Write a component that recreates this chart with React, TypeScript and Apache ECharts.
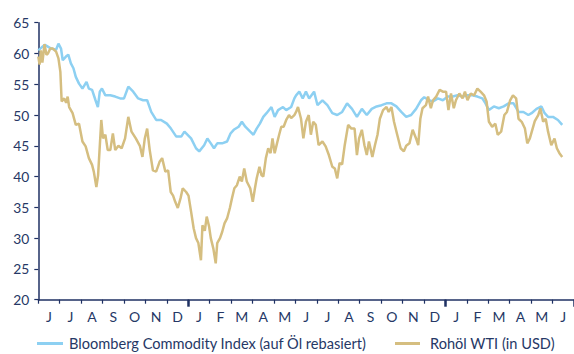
import React, { useEffect, useRef } from "react";
import * as echarts from "echarts";

// Month letters from June 2015 to June 2017 (one label per month band)
const monthLabels = [
  "J", "J", "A", "S", "O", "N", "D",
  "J", "F", "M", "A", "M", "J", "J", "A", "S", "O", "N", "D",
  "J", "F", "M", "A", "M", "J",
];
// Indices of the month bands that open a new year (January)
const yearStarts = [7, 19];

const seriesNames = ["Bloomberg Commodity Index (auf Öl rebasiert)", "Rohöl WTI (in USD)"];

// x: months elapsed since 1 June 2015; y: index level (rebased to oil)
const bcomMonths = [
  0, 0.16, 0.31, 0.6, 0.83, 0.94, 1.06, 1.14, 1.29, 1.4, 1.52, 1.64, 1.75, 1.9, 2.06, 2.25, 2.36, 2.51,
  2.67, 2.78, 2.87, 2.97, 3.13, 3.36, 3.59, 3.82, 4.0, 4.2, 4.43, 4.66, 4.89, 5.08, 5.27, 5.5, 5.73, 6.0,
  6.19, 6.44, 6.67, 6.82, 7.13, 7.36, 7.51, 7.74, 7.89, 8.05, 8.2, 8.35, 8.58, 8.81, 8.97, 9.12, 9.35,
  9.5, 9.66, 9.89, 10.04, 10.19, 10.34, 10.5, 10.65, 10.88, 11.03, 11.19, 11.42, 11.57, 11.8, 11.95,
  12.03, 12.18, 12.34, 12.49, 12.64, 12.87, 13.03, 13.26, 13.49, 13.72, 13.95, 14.18, 14.41, 14.64,
  14.87, 15.1, 15.33, 15.56, 15.79, 16.02, 16.25, 16.48, 16.71, 16.94, 17.17, 17.4, 17.63, 17.86, 18.01,
  18.23, 18.42, 18.65, 18.88, 19.11, 19.34, 19.57, 19.8, 20.03, 20.26, 20.49, 20.72, 20.87, 21.03, 21.26,
  21.49, 21.72, 21.95, 22.18, 22.41, 22.64, 22.87, 23.02, 23.25, 23.48, 23.63, 23.79, 24.02, 24.25, 24.45,
];
const bcomValues = [
  60.5, 61, 61.4, 60.8, 60.6, 61.6, 60.8, 58.9, 59.5, 59.8, 58.4, 57.6, 56.2, 55.1, 54.3, 55.4, 54.3, 54.1,
  52.4, 51.3, 53.8, 54.3, 53.2, 53.2, 53, 52.7, 52.7, 54.6, 53.8, 52.7, 52.4, 52.4, 50.5, 49.2, 49.2, 48.6,
  47.8, 46.5, 46.5, 47.3, 46.2, 44.6, 44.1, 45.1, 46.2, 45.4, 44.6, 45.4, 45.4, 45.7, 47, 47.6, 48.1,
  48.9, 48.1, 47.3, 46.8, 47.8, 48.6, 49.7, 50.3, 51.3, 49.7, 50.8, 51.3, 50.8, 51.3, 52.7,
  53.2, 53.8, 52.7, 53.8, 52.7, 53.8, 51.6, 52.4, 51.6, 50.3, 50, 50.5, 51.9, 51,
  49.7, 51, 50, 51, 51.4, 51.6, 51.9, 51.9, 51.4, 50.5, 49.7, 50, 51, 52.4, 52.9,
  52.4, 52.2, 52.7, 52.4, 53, 53, 53.2, 53, 53.2, 53.2, 53, 52.7, 51.9, 50.8, 51.4,
  51.1, 51.4, 51.9, 51.9, 50.5, 50.5, 50, 50.3, 51, 51.4, 50.3, 49.7, 49.7, 49.2, 48.4,
];

// x: months elapsed since 1 June 2015; y: WTI price in USD
const wtiMonths = [
  0, 0.06, 0.12, 0.19, 0.29, 0.38, 0.45, 0.56, 0.68, 0.83, 0.94, 1.03, 1.09, 1.21, 1.3, 1.37, 1.44, 1.6,
  1.75, 1.9, 2.06, 2.21, 2.36, 2.51, 2.59, 2.71, 2.79, 2.94, 3.02, 3.13, 3.24, 3.36, 3.48, 3.59, 3.74,
  3.89, 4.05, 4.2, 4.35, 4.55, 4.74, 4.86, 4.97, 5.08, 5.2, 5.35, 5.5, 5.66, 5.78, 5.93, 6.06, 6.18,
  6.29, 6.39, 6.51, 6.64, 6.74, 6.9, 7.01, 7.13, 7.25, 7.36, 7.47, 7.59, 7.66, 7.77, 7.86, 7.97, 8.05,
  8.17, 8.28, 8.35, 8.48, 8.58, 8.69, 8.81, 8.94, 9.04, 9.15, 9.27, 9.4, 9.5, 9.61, 9.73, 9.89, 10.01,
  10.11, 10.19, 10.32, 10.42, 10.5, 10.62, 10.73, 10.84, 10.93, 11.03, 11.14, 11.24, 11.34, 11.45,
  11.57, 11.7, 11.8, 11.95, 12.03, 12.12, 12.26, 12.37, 12.49, 12.62, 12.72, 12.83, 12.95, 13.08,
  13.26, 13.41, 13.56, 13.72, 13.84, 13.95, 14.06, 14.18, 14.3, 14.46, 14.61, 14.76, 14.87, 14.97,
  15.1, 15.22, 15.33, 15.43, 15.59, 15.71, 15.83, 15.94, 16.09, 16.25, 16.35, 16.48, 16.6, 16.75,
  16.91, 17.06, 17.17, 17.32, 17.47, 17.63, 17.73, 17.83, 17.93, 18.09, 18.19, 18.32, 18.42, 18.57,
  18.73, 18.88, 19.03, 19.14, 19.26, 19.39, 19.49, 19.65, 19.8, 19.91, 20.03, 20.18, 20.34, 20.49,
  20.64, 20.8, 20.92, 21.03, 21.18, 21.33, 21.44, 21.6, 21.75, 21.87, 22.02, 22.15, 22.3, 22.41,
  22.56, 22.71, 22.82, 22.94, 23.07, 23.17, 23.33, 23.43, 23.56, 23.68, 23.79, 23.94, 24.09, 24.2,
  24.32, 24.45,
];
const wtiValues = [
  59.5, 58.2, 60.5, 58.5, 61.5, 59.8, 60, 60.8, 60.8, 60.3, 59.2, 57, 52.2, 52.7, 52, 53, 51.3, 50.3,
  48.4, 48.6, 45.7, 44.9, 43, 41.9, 40.8, 38.3, 40.2, 49.2, 46.2, 46.8, 44.3, 44.3, 47, 44.3, 45,
  44.6, 46.2, 49.7, 47.3, 46.2, 45, 43.2, 46.2, 47.8, 44.3, 41, 40.8, 42.4, 43, 40.8, 41, 37.5,
  36.9, 35.9, 34.9, 36.5, 38.1, 37.5, 36.9, 34.3, 31.6, 30, 29.2, 26.4, 32.1, 31.2, 33.5, 31.9, 30,
  28.3, 25.9, 29.2, 30, 31, 32.4, 33.2, 34.9, 36.5, 38.1, 38.6, 40, 39.2, 41.3, 39.2, 38.1, 35.9,
  38.1, 39.7, 41.6, 40.2, 40, 43, 44.6, 43.8, 46.2, 43.8, 45.4, 46.8, 48.1, 48.1,
  49.2, 50, 49.5, 50, 50.5, 51.3, 49.4, 46.2, 48.9, 50, 46.8, 48.9, 48.4, 45.1,
  45.7, 44.9, 43.5, 41.6, 41.3, 39.7, 42.2, 42, 45.1, 48.4, 47.8, 47.8, 43.5, 46.2,
  47.6, 45.1, 43.5, 45.7, 43.2, 45.1, 46.8, 49.4, 50.8, 51.3, 50.5, 51.3, 48.9, 46.8,
  44.6, 44.1, 45, 45.4, 47.6, 46.2, 45.1, 49.4, 51.1, 51.6, 53, 51.1, 52.4, 53,
  54.1, 53.8, 53.8, 50.8, 53.5, 51.1, 52.4, 53.5, 52.7, 53.8, 52.4, 53.5, 53.2, 54.3,
  53.8, 53.2, 52.2, 48.9, 48.1, 48.6, 46.8, 47.3, 50, 50.5, 52.4, 53.2, 52.7, 49.4,
  48.9, 47.8, 45.4, 46.2, 47.8, 49, 50, 51.1, 48.9, 49.4, 47.3, 45.1, 46.2, 44.6,
  43.8, 43.2,
];

const NAVY = "#1f3163";
const TEXT = "#263866";
const BLUE = "#8dd0f2";
const GOLD = "#d5be80";
const FONT = "Lato, 'Open Sans', sans-serif";

const pairs = (xs: number[], ys: number[]) => xs.map((x, i) => [x, ys[i]]);

export default function App() {
  const ref = useRef<HTMLDivElement>(null);

  useEffect(() => {
    if (!ref.current) return;
    const chart = echarts.init(ref.current, undefined, { renderer: "svg" });
    chart.setOption({
      animation: false,
      backgroundColor: "#ffffff",
      textStyle: { fontFamily: FONT },
      grid: { left: 38.3, top: 22.7, width: 543.75, height: 277 },
      legend: [
        {
          data: [seriesNames[0]],
          left: 37,
          top: 336,
          icon: "rect",
          itemWidth: 26,
          itemHeight: 3,
          itemGap: 0,
          padding: 0,
          textStyle: { color: TEXT, fontSize: 14.6, fontFamily: FONT, padding: [0, 0, 0, 1] },
        },
        {
          data: [seriesNames[1]],
          left: 395,
          top: 336,
          icon: "rect",
          itemWidth: 25,
          itemHeight: 3,
          itemGap: 0,
          padding: 0,
          textStyle: { color: TEXT, fontSize: 14.6, fontFamily: FONT, padding: [0, 0, 0, 5] },
        },
      ],
      xAxis: [
        {
          type: "value",
          min: 0,
          max: 25,
          interval: 1,
          axisLine: { show: true, lineStyle: { color: NAVY, width: 1.5 } },
          axisTick: { show: true, length: 4, lineStyle: { color: NAVY, width: 1.2 } },
          axisLabel: { show: false },
          splitLine: { show: false },
        },
        {
          type: "category",
          data: monthLabels,
          boundaryGap: true,
          position: "bottom",
          axisLine: { show: false },
          axisTick: {
            show: true,
            length: 7,
            interval: (index: number) => yearStarts.includes(index),
            lineStyle: { color: NAVY, width: 2.5 },
          },
          axisLabel: {
            interval: 0,
            margin: 10,
            color: TEXT,
            fontSize: 14,
            fontFamily: FONT,
          },
          splitLine: { show: false },
        },
      ],
      yAxis: {
        type: "value",
        min: 20,
        max: 65,
        interval: 5,
        axisLine: { show: true, lineStyle: { color: NAVY, width: 1.5 } },
        axisTick: { show: true, length: 4, lineStyle: { color: NAVY, width: 1.2 } },
        axisLabel: { color: TEXT, fontSize: 13.8, fontFamily: FONT, margin: 9 },
        splitLine: { show: false },
      },
      series: [
        {
          name: seriesNames[0],
          type: "line",
          xAxisIndex: 0,
          data: pairs(bcomMonths, bcomValues),
          symbol: "none",
          color: BLUE,
          lineStyle: { color: BLUE, width: 2.5 },
        },
        {
          name: seriesNames[1],
          type: "line",
          xAxisIndex: 0,
          data: pairs(wtiMonths, wtiValues),
          symbol: "none",
          color: GOLD,
          lineStyle: { color: GOLD, width: 2.5 },
        },
      ],
    });
    return () => chart.dispose();
  }, []);

  return (
    <div style={{ position: "fixed", left: 0, top: 0, width: 574, height: 354, overflow: "hidden", background: "#fff" }}>
      <div ref={ref} style={{ width: 574, height: 354 }} />
    </div>
  );
}
